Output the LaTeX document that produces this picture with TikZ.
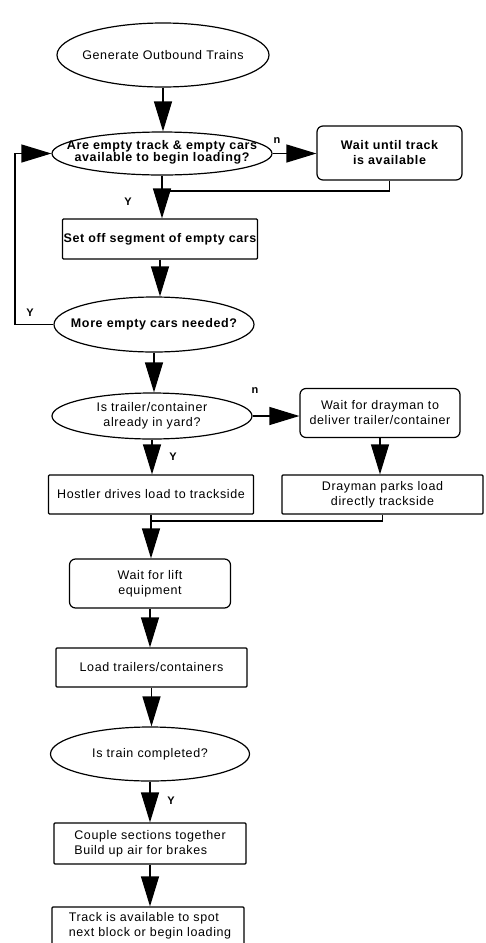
\documentclass[tikz,border=0pt]{standalone}
\usepackage{fontspec}
\setmainfont{Liberation Sans}[LetterSpace=5]
\usetikzlibrary{shapes.geometric,arrows.meta}
\begin{document}
\begin{tikzpicture}[x=1pt,y=-1pt,
  base/.style={draw, line width=1.2pt, inner sep=0pt, align=center,
    font=\fontsize{12.5}{15}\selectfont},
  ell/.style={base, ellipse},
  rbox/.style={base, rectangle, rounded corners=6pt},
  sbox/.style={base, rectangle, rounded corners=1pt},
  txt/.style={inner sep=0pt, align=center, font=\fontsize{12.5}{15}\selectfont},
  bf/.style={font=\fontsize{12.5}{15}\selectfont\bfseries},
  ln/.style={line width=1.2pt},
  arr/.style={line width=1.2pt, -{Triangle[length=30pt,width=18pt]}},
  lbl/.style={inner sep=0pt, font=\fontsize{11}{13}\selectfont\bfseries}
]
\useasboundingbox (0,0) rectangle (486,943);

% ellipses (shapes) with their texts
\node[ell, minimum width=212pt, minimum height=64pt] (gen) at (163,55) {};
\node[txt] (gent) at (gen) {Generate Outbound Trains};
\node[ell, minimum width=220pt, minimum height=43pt] (q1) at (162,153.5) {};
\node[txt, font=\fontsize{12.5}{12}\selectfont\bfseries] (q1t) at (162,152) {Are empty track \& empty cars\\available to begin loading?};
\node[ell, minimum width=200pt, minimum height=55pt] (q2) at (154,324.5) {};
\node[txt, bf] (q2t) at (q2) {More empty cars needed?};
\node[ell, minimum width=200pt, minimum height=46pt] (q3) at (152,416) {};
\node[txt] (q3t) at (q3) {Is trailer/container\\already in yard?};
\node[ell, minimum width=199pt, minimum height=54pt] (q4) at (150,754) {};
\node[txt] (q4t) at (q4) {Is train completed?};

% boxes
\node[rbox, bf, minimum width=145pt, minimum height=54pt] (wait1) at (389.5,153) {Wait until track\\is available};
\node[sbox, bf, minimum width=195pt, minimum height=40pt] (setoff) at (160,239) {Set off segment of empty cars};
\node[rbox, minimum width=160pt, minimum height=49pt] (wait2) at (380,413) {Wait for drayman to\\deliver trailer/container};
\node[sbox, minimum width=205pt, minimum height=39pt] (hostler) at (151,494.5) {Hostler drives load to trackside};
\node[sbox, minimum width=201pt, minimum height=39pt] (drayman) at (382.5,494.5) {Drayman parks load\\directly trackside};
\node[rbox, minimum width=161pt, minimum height=49pt] (lift) at (150,583.5) {Wait for lift\\equipment};
\node[sbox, minimum width=191pt, minimum height=39pt] (load) at (151.5,667.5) {Load trailers/containers};
\node[sbox, align=left, minimum width=192pt, minimum height=41pt] (couple) at (150,843.5) {Couple sections together\\Build up air for brakes};
\node[sbox, minimum width=192pt, minimum height=50pt] (track) at (148,932) {};
\node[txt, align=left] (trackt) at (150,925.5) {Track is available to spot\\next block or begin loading};

\coordinate (j1) at (161,191);
\coordinate (j2) at (151,521);
\coordinate (loopx) at (15,240);

\draw[arr] (gen.south) -- (gen.south |- q1.north);
\draw[arr] (q1.east) -- (q1.east -| wait1.west);
\draw[arr] (q1.south) -- (q1.south |- setoff.north);
\draw[ln] (wait1.south) |- (j1);
\draw[arr] (setoff.south) -- (setoff.south |- q2.north);
\draw[arr] (q2.west) -| (loopx |- q1.west) -- (q1.west);
\draw[arr] (q2.south) -- (q2.south |- q3.north);
\draw[arr] (q3.east) -- (q3.east -| wait2.west);
\draw[arr] (q3.south) -- (q3.south |- hostler.north);
\draw[arr] (wait2.south) -- (wait2.south |- drayman.north);
\draw[arr] (hostler.south) -- (hostler.south |- lift.north);
\draw[ln] (drayman.south) |- (j2);
\draw[arr] (lift.south) -- (lift.south |- load.north);
\draw[arr] (load.south) -- (load.south |- q4.north);
\draw[arr] (q4.south) -- (q4.south |- couple.north);
\draw[arr] (couple.south) -- (couple.south |- track.north);

\node[lbl] (n1) at (277,141) {n};
\node[lbl] (y1) at (128,202) {Y};
\node[lbl] (y2) at (30,313) {Y};
\node[lbl] (n2) at (255,391) {n};
\node[lbl] (y3) at (173,457) {Y};
\node[lbl] (y4) at (171,801) {Y};
\end{tikzpicture}
\end{document}
